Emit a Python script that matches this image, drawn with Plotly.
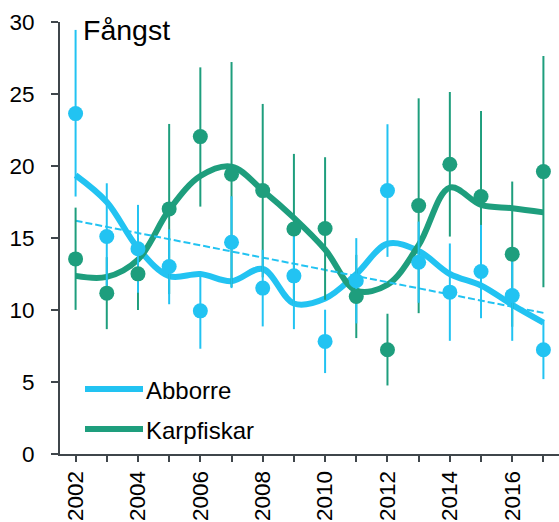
import plotly.graph_objects as go

years = list(range(2002, 2018))

abborre_mean = [23.64, 15.1, 14.25, 13.02, 9.94, 14.71, 11.52, 12.37, 7.82, 12.03, 18.29, 13.32, 11.24, 12.67, 11.0, 7.24]
abborre_high = [29.45, 18.8, 17.3, 15.6, 12.57, 17.9, 14.18, 16.07, 10.02, 14.99, 22.9, 16.14, 14.62, 15.91, 14.14, 9.28]
abborre_low = [17.88, 11.4, 11.2, 10.4, 7.31, 11.52, 8.86, 8.67, 5.62, 9.07, 13.69, 10.5, 7.86, 9.43, 7.86, 5.2]

karp_mean = [13.55, 11.17, 12.51, 17.02, 22.04, 19.43, 18.29, 15.63, 15.66, 10.94, 7.24, 17.25, 20.12, 17.88, 13.88, 19.61]
karp_high = [17.11, 13.67, 15.0, 22.92, 26.85, 27.22, 24.31, 20.84, 20.61, 13.83, 9.74, 24.7, 25.14, 23.82, 18.92, 27.64]
karp_low = [10.01, 8.67, 10.0, 11.1, 17.18, 11.6, 12.27, 10.43, 10.71, 8.05, 4.76, 9.78, 15.1, 11.94, 8.84, 11.58]

abborre_smooth = [19.36, 17.5, 14.3, 12.35, 12.5, 12.0, 12.85, 10.45, 10.8, 12.5, 14.6, 14.1, 12.5, 11.7, 10.36, 9.13]
karp_smooth = [12.37, 12.3, 13.5, 16.95, 19.3, 19.96, 18.3, 16.4, 14.2, 11.35, 11.75, 14.5, 18.5, 17.3, 17.07, 16.78]

trend_years = [2002, 2017]
trend_abborre = [16.2, 9.8]

y_ticks = [0, 5, 10, 15, 20, 25, 30]
x_ticktext = [str(y) if y % 2 == 0 else "" for y in years]

BLUE = "#22C3F2"
GREEN = "#1E9E7D"
AXIS = "#3F464B"
FONT = "Liberation Sans, Arial, sans-serif"

def err_plus(high, mean):
    return [h - m for h, m in zip(high, mean)]

def err_minus(low, mean):
    return [m - l for l, m in zip(low, mean)]

fig = go.Figure()

# smooth curves
fig.add_trace(go.Scatter(x=years, y=abborre_smooth, mode="lines",
                         line=dict(color=BLUE, width=6, shape="spline", smoothing=1.0),
                         showlegend=False, hoverinfo="skip"))
fig.add_trace(go.Scatter(x=years, y=karp_smooth, mode="lines",
                         line=dict(color=GREEN, width=6, shape="spline", smoothing=1.0),
                         showlegend=False, hoverinfo="skip"))
# trend
fig.add_trace(go.Scatter(x=trend_years, y=trend_abborre, mode="lines",
                         line=dict(color=BLUE, width=2, dash="7px,3px"),
                         showlegend=False, hoverinfo="skip"))
# error bars (green below blue)
fig.add_trace(go.Scatter(x=years, y=karp_mean, mode="markers",
                         marker=dict(size=1, color="rgba(0,0,0,0)"),
                         error_y=dict(type="data", symmetric=False,
                                      array=err_plus(karp_high, karp_mean),
                                      arrayminus=err_minus(karp_low, karp_mean),
                                      color=GREEN, thickness=2, width=0),
                         showlegend=False, hoverinfo="skip"))
fig.add_trace(go.Scatter(x=years, y=abborre_mean, mode="markers",
                         marker=dict(size=1, color="rgba(0,0,0,0)"),
                         error_y=dict(type="data", symmetric=False,
                                      array=err_plus(abborre_high, abborre_mean),
                                      arrayminus=err_minus(abborre_low, abborre_mean),
                                      color=BLUE, thickness=2, width=0),
                         showlegend=False, hoverinfo="skip"))
# points
fig.add_trace(go.Scatter(x=years, y=abborre_mean, mode="markers",
                         marker=dict(size=15, color=BLUE),
                         name="Abborre", showlegend=False))
fig.add_trace(go.Scatter(x=years, y=karp_mean, mode="markers",
                         marker=dict(size=15, color=GREEN),
                         name="Karpfiskar", showlegend=False))

# manual legend
L = 60
W = 499
T = 22
H = 432.3
def px_x(px):
    return (px - L) / W
def px_y(py):
    return (T + H - py) / H

legend_items = [("Abborre", BLUE, 389.3), ("Karpfiskar", GREEN, 429.3)]
for label, col, py in legend_items:
    fig.add_shape(type="line", xref="paper", yref="paper",
                  x0=px_x(85), x1=px_x(143), y0=px_y(py), y1=px_y(py),
                  line=dict(color=col, width=6))
    fig.add_annotation(x=px_x(144), y=px_y(py + 1), xref="paper", yref="paper",
                       text=label, showarrow=False, xanchor="left", yanchor="middle",
                       font=dict(family=FONT, size=24, color="#000000"))

fig.add_annotation(x=px_x(81), y=px_y(30), xref="paper", yref="paper",
                   text="Fångst", showarrow=False, xanchor="left", yanchor="middle",
                   font=dict(family=FONT, size=28.5, color="#000000"))

fig.update_layout(
    width=559, height=522,
    margin=dict(l=60, r=0, t=22, b=68),
    plot_bgcolor="white", paper_bgcolor="white",
    font=dict(family=FONT, size=22, color="#000000"),
    showlegend=False,
)
fig.update_xaxes(range=[2001.5, 2017.5], tickvals=years, ticktext=x_ticktext,
                 tickangle=-90, showgrid=False, zeroline=False,
                 showline=True, linecolor=AXIS, linewidth=2,
                 ticks="outside", ticklen=6, tickwidth=2, tickcolor=AXIS,
                 tickfont=dict(family=FONT, size=22.5, color="#000000"))
fig.update_yaxes(range=[0, 30], tickvals=y_ticks, showgrid=False, zeroline=False,
                 showline=True, linecolor=AXIS, linewidth=2,
                 ticks="outside", ticklen=7, tickwidth=2, tickcolor=AXIS,
                 ticklabelstandoff=12,
                 tickfont=dict(family=FONT, size=22.5, color="#000000"))

fig.write_html("out.html", config={"displayModeBar": False},
               post_script="document.body.style.margin='0';document.body.style.overflow='hidden';")
